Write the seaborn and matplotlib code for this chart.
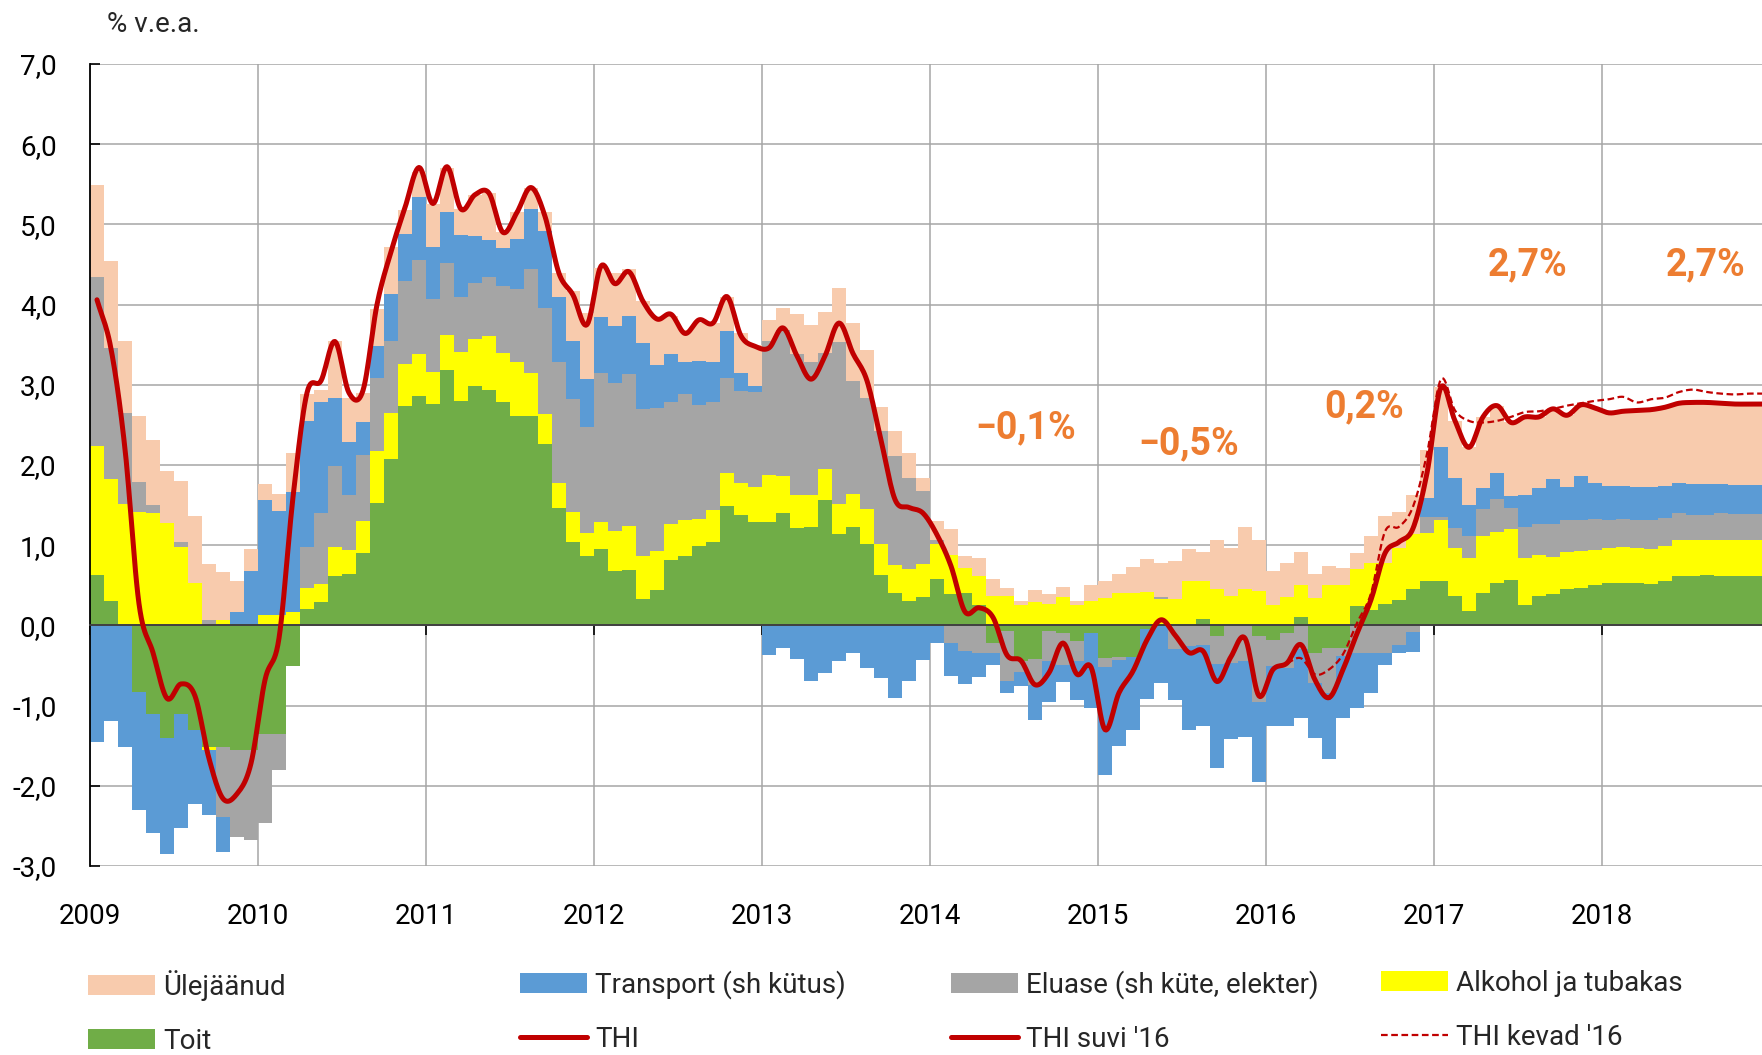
import numpy as np
import pandas as pd
import matplotlib
matplotlib.use("Agg")
import matplotlib.pyplot as plt
import seaborn as sns
from matplotlib.patches import Patch
from matplotlib.lines import Line2D

# ---------------- data (monthly, Jan 2009 - Dec 2018) ----------------
year_labels = [str(y) for y in range(2009, 2019)]

toit = [0.63, 0.30, 0.00, -0.83, -1.11, -1.40, -1.11, -1.31, -1.51, -1.51, -1.55, -1.55,
        -1.36, -1.36, -0.50, 0.21, 0.29, 0.62, 0.64, 0.90, 1.53, 2.08, 2.74, 2.86,
        2.76, 3.18, 2.80, 2.98, 2.94, 2.79, 2.61, 2.61, 2.26, 1.46, 1.04, 0.87,
        0.95, 0.68, 0.69, 0.33, 0.44, 0.82, 0.87, 0.99, 1.04, 1.49, 1.38, 1.29,
        1.29, 1.40, 1.22, 1.23, 1.56, 1.14, 1.23, 1.01, 0.63, 0.41, 0.31, 0.36,
        0.58, 0.39, 0.40, 0.26, -0.22, -0.07, -0.44, -0.42, -0.07, -0.09, -0.20, -0.10,
        -0.41, -0.40, -0.39, -0.05, 0.00, 0.00, 0.00, 0.08, -0.13, 0.00, 0.00, -0.13,
        -0.18, -0.10, 0.10, -0.34, -0.28, -0.28, 0.24, 0.19, 0.27, 0.32, 0.45, 0.55,
        0.55, 0.37, 0.18, 0.41, 0.53, 0.57, 0.26, 0.37, 0.39, 0.45, 0.47, 0.50,
        0.53, 0.53, 0.53, 0.51, 0.55, 0.62, 0.62, 0.63, 0.62, 0.62, 0.62, 0.62]

alkohol = [1.61, 1.53, 1.51, 1.42, 1.40, 1.28, 0.98, 0.53, -0.04, 0.07, 0.00, 0.00,
           0.13, 0.13, 0.17, 0.26, 0.23, 0.36, 0.30, 0.40, 0.64, 0.57, 0.52, 0.53,
           0.40, 0.44, 0.61, 0.59, 0.67, 0.61, 0.68, 0.54, 0.38, 0.32, 0.37, 0.28,
           0.34, 0.50, 0.55, 0.53, 0.49, 0.44, 0.45, 0.34, 0.40, 0.41, 0.39, 0.44,
           0.58, 0.46, 0.40, 0.39, 0.39, 0.37, 0.41, 0.44, 0.38, 0.34, 0.39, 0.41,
           0.43, 0.49, 0.31, 0.35, 0.37, 0.37, 0.26, 0.29, 0.27, 0.35, 0.25, 0.30,
           0.34, 0.40, 0.41, 0.42, 0.33, 0.33, 0.55, 0.47, 0.45, 0.37, 0.46, 0.43,
           0.25, 0.35, 0.40, 0.34, 0.50, 0.50, 0.46, 0.59, 0.51, 0.64, 0.69, 0.60,
           0.76, 0.60, 0.66, 0.70, 0.63, 0.63, 0.58, 0.51, 0.46, 0.46, 0.46, 0.44,
           0.43, 0.45, 0.44, 0.44, 0.44, 0.44, 0.44, 0.43, 0.45, 0.45, 0.45, 0.45]

eluase = [2.10, 1.63, 1.14, 0.37, 0.10, 0.00, 0.06, 0.00, 0.07, -0.88, -1.09, -1.13,
          -1.10, -0.44, 0.00, 0.51, 0.88, 1.01, 0.69, 0.82, 0.91, 0.89, 1.03, 1.16,
          0.91, 0.90, 0.69, 0.70, 0.73, 0.83, 0.91, 1.30, 1.32, 1.50, 1.41, 1.33,
          1.86, 1.84, 1.89, 1.84, 1.78, 1.53, 1.56, 1.42, 1.35, 1.18, 1.15, 1.18,
          1.67, 1.82, 1.76, 1.66, 1.45, 2.02, 1.41, 1.38, 1.42, 1.36, 1.14, 0.91,
          0.06, -0.22, -0.32, -0.35, -0.13, -0.62, -0.14, -0.32, -0.37, -0.40, -0.24, 0.00,
          -0.11, -0.03, 0.00, 0.00, 0.03, -0.30, -0.26, -0.25, -0.35, -0.47, -0.45, -0.83,
          -0.32, -0.43, -0.30, -0.38, -0.56, -0.10, -0.34, -0.35, -0.35, -0.25, -0.08, 0.20,
          0.04, 0.24, 0.27, 0.34, 0.41, 0.26, 0.39, 0.39, 0.41, 0.40, 0.39, 0.39,
          0.36, 0.35, 0.35, 0.36, 0.35, 0.34, 0.32, 0.32, 0.33, 0.32, 0.32, 0.32]

transport = [-1.45, -1.19, -1.51, -1.47, -1.48, -1.45, -1.42, -0.92, -0.82, -0.43, 0.17, 0.68,
             1.43, 1.30, 1.49, 1.57, 1.39, 0.84, 0.66, 0.41, 0.40, 0.59, 0.59, 0.79,
             0.65, 0.63, 0.77, 0.58, 0.46, 0.48, 0.62, 0.74, 0.96, 0.81, 0.72, 0.59,
             0.70, 0.71, 0.73, 0.82, 0.54, 0.60, 0.41, 0.55, 0.50, 0.59, 0.23, 0.08,
             -0.37, -0.28, -0.42, -0.69, -0.59, -0.45, -0.35, -0.53, -0.66, -0.91, -0.69, -0.43,
             -0.22, -0.41, -0.41, -0.29, -0.14, -0.15, -0.18, -0.44, -0.51, -0.22, -0.49, -0.93,
             -1.34, -1.07, -0.92, -0.87, -0.72, -0.63, -1.04, -1.00, -1.30, -0.95, -0.94, -0.99,
             -0.75, -0.72, -0.86, -0.68, -0.82, -0.78, -0.69, -0.49, -0.14, -0.10, -0.25, 0.24,
             0.87, 0.63, 0.39, 0.26, 0.33, 0.15, 0.39, 0.44, 0.57, 0.42, 0.54, 0.45,
             0.42, 0.41, 0.40, 0.41, 0.40, 0.38, 0.38, 0.38, 0.36, 0.36, 0.36, 0.36]

ylejaanud = [1.15, 1.08, 0.89, 0.82, 0.81, 0.65, 0.76, 0.83, 0.69, 0.60, 0.38, 0.27,
             0.20, 0.21, 0.49, 0.33, 0.14, 0.71, 0.54, 0.37, 0.47, 0.59, 0.30, 0.31,
             0.54, 0.55, 0.32, 0.52, 0.59, 0.19, 0.33, 0.27, 0.24, 0.31, 0.63, 0.82,
             0.61, 0.66, 0.58, 0.52, 0.59, 0.47, 0.39, 0.47, 0.48, 0.43, 0.49, 0.51,
             0.27, 0.28, 0.50, 0.47, 0.51, 0.68, 0.72, 0.61, 0.29, 0.31, 0.31, 0.16,
             0.23, 0.32, 0.16, 0.23, 0.21, 0.10, 0.04, 0.15, 0.12, 0.13, 0.05, 0.20,
             0.21, 0.24, 0.32, 0.41, 0.42, 0.47, 0.40, 0.37, 0.62, 0.60, 0.77, 0.63,
             0.43, 0.43, 0.42, 0.30, 0.24, 0.22, 0.20, 0.33, 0.58, 0.46, 0.49, 0.60,
             0.75, 0.71, 0.72, 0.89, 0.84, 0.92, 0.98, 0.89, 0.87, 0.89, 0.89, 0.93,
             0.91, 0.93, 0.96, 0.97, 0.98, 0.99, 1.02, 1.02, 1.01, 1.01, 1.00, 1.01]

# THI actual: months 0..88 (Jan 2009 - May 2016)
thi = [4.06, 3.45, 2.20, 0.27, -0.34, -0.91, -0.73, -0.88, -1.66, -2.16, -2.10, -1.72,
       -0.68, -0.16, 1.60, 2.90, 3.05, 3.54, 2.90, 2.93, 4.00, 4.66, 5.21, 5.71,
       5.26, 5.72, 5.19, 5.37, 5.39, 4.90, 5.15, 5.46, 5.10, 4.39, 4.12, 3.75,
       4.48, 4.26, 4.41, 4.04, 3.82, 3.88, 3.64, 3.81, 3.77, 4.10, 3.61, 3.48,
       3.46, 3.71, 3.36, 3.07, 3.36, 3.77, 3.39, 3.05, 2.31, 1.57, 1.47, 1.40,
       1.13, 0.74, 0.17, 0.22, 0.10, -0.37, -0.44, -0.74, -0.59, -0.22, -0.61, -0.52,
       -1.30, -0.84, -0.57, -0.18, 0.07, -0.12, -0.34, -0.32, -0.70, -0.39, -0.16, -0.88,
       -0.55, -0.47, -0.24, -0.68, -0.90]
# THI suvi '16: months 88..119
thi_suvi16 = [-0.90, -0.55, -0.10, 0.32, 0.90, 1.04, 1.21, 1.90,
              2.97, 2.55, 2.22, 2.60, 2.74, 2.53, 2.60, 2.60, 2.70, 2.62, 2.75, 2.71,
              2.65, 2.67, 2.68, 2.69, 2.72, 2.77, 2.78, 2.78, 2.77, 2.76, 2.76, 2.76]
# THI kevad '16: months 85..119
thi_kevad16 = [-0.47, -0.41, -0.61, -0.55, -0.36, 0.03, 0.40, 1.17, 1.23, 1.48, 2.14,
               3.07, 2.68, 2.55, 2.53, 2.55, 2.60, 2.66, 2.67, 2.70, 2.74, 2.77, 2.80,
               2.82, 2.85, 2.78, 2.82, 2.84, 2.91, 2.94, 2.91, 2.89, 2.88, 2.89, 2.89]

ann_texts = ["\u22120,1%", "\u22120,5%", "0,2%", "2,7%", "2,7%"]
ann_month = [66.8, 78.5, 91.0, 102.7, 115.4]
ann_value = [2.46, 2.27, 2.72, 4.49, 4.49]

# ---------------- styling ----------------
C_U, C_T, C_E, C_A, C_F = "#F8CBAD", "#5B9BD5", "#A5A5A5", "#FFFF00", "#70AD47"
RED = "#C00000"
ORANGE = "#ED7D31"

sns.set_theme(style="white")
plt.rcParams["font.family"] = ["Roboto", "DejaVu Sans"]

fig = plt.figure(figsize=(17.62, 10.55), dpi=100)
ax = fig.add_axes([90 / 1762, 1 - 866 / 1055, 1 - 90 / 1762, (866 - 64) / 1055])

n = len(toit)
months = np.arange(n)
df = pd.DataFrame({"Toit": toit, "Alkohol ja tubakas": alkohol,
                   "Eluase (sh küte, elekter)": eluase,
                   "Transport (sh kütus)": transport, "Ülejäänud": ylejaanud})
comps = [("Toit", C_F), ("Alkohol ja tubakas", C_A), ("Eluase (sh küte, elekter)", C_E),
         ("Transport (sh kütus)", C_T), ("Ülejäänud", C_U)]
pos = np.zeros(n)
neg = np.zeros(n)
for name, col in comps:
    v = df[name].to_numpy()
    bottom = np.where(v >= 0, pos, neg)
    ax.bar(months, v, width=1.0, bottom=bottom, align="edge", color=col,
           linewidth=0, zorder=1)
    pos += np.where(v >= 0, v, 0)
    neg += np.where(v < 0, v, 0)


def smooth(x, y, k=12):
    x = np.asarray(x, float)
    y = np.asarray(y, float)
    px = np.concatenate([[2 * x[0] - x[1]], x, [2 * x[-1] - x[-2]]])
    py = np.concatenate([[2 * y[0] - y[1]], y, [2 * y[-1] - y[-2]]])
    t = np.linspace(0, 1, k, endpoint=False)
    ox, oy = [], []
    for i in range(1, len(px) - 2):
        for arr, out in ((px, ox), (py, oy)):
            p0, p1, p2, p3 = arr[i - 1], arr[i], arr[i + 1], arr[i + 2]
            out.extend(0.5 * (2 * p1 + (-p0 + p2) * t
                              + (2 * p0 - 5 * p1 + 4 * p2 - p3) * t ** 2
                              + (-p0 + 3 * p1 - 3 * p2 + p3) * t ** 3))
    ox.append(x[-1])
    oy.append(y[-1])
    return np.array(ox), np.array(oy)


# kevad '16 (dashed)
kx = np.arange(85, 85 + len(thi_kevad16)) + 0.5
sx, sy = smooth(kx, thi_kevad16)
sns.lineplot(x=sx, y=sy, ax=ax, sort=False, estimator=None, color=RED,
             linewidth=1.6, dashes=False, zorder=3).lines[-1].set_dashes([3, 1.6])

# THI + THI suvi '16 (thick solid)
full = thi + thi_suvi16[1:]
fx = np.arange(len(full)) + 0.5
sx, sy = smooth(fx, full)
split = sx <= 88.5
sns.lineplot(x=sx[split], y=sy[split], ax=ax, sort=False, estimator=None,
             color=RED, linewidth=3.6, zorder=4)
sns.lineplot(x=sx[sx >= 88.5], y=sy[sx >= 88.5], ax=ax, sort=False, estimator=None,
             color=RED, linewidth=3.6, zorder=4)

for t, xm, yv in zip(ann_texts, ann_month, ann_value):
    ax.text(xm, yv, t, ha="center", va="center", color=ORANGE, fontsize=27,
            fontweight="bold", zorder=5)

# axes
ax.set_xlim(0, (1762 - 90) / 14)
ax.set_ylim(-3, 7)
ax.set_yticks(range(-3, 8))
ax.set_yticklabels([f"{v},0" if v >= 0 else f"-{abs(v)},0" for v in range(-3, 8)])
ax.set_xticks(np.arange(0, 120, 12))
ax.set_xticklabels(year_labels)
ax.set_axisbelow(True)
ax.grid(True, color="#A6A6A6", linewidth=1.1)
for s in ("top", "right"):
    ax.spines[s].set_visible(False)
ax.spines["left"].set_color("black")
ax.spines["left"].set_linewidth(1.3)
ax.spines["bottom"].set_position(("data", 0))
ax.spines["bottom"].set_color("#404040")
ax.spines["bottom"].set_linewidth(1.4)
ax.tick_params(axis="y", direction="in", length=7, width=1.2, color="black",
               pad=24, labelsize=20, labelcolor="black", left=True)
ax.tick_params(axis="x", direction="out", length=7, width=1.2, color="black",
               pad=193, labelsize=20, labelcolor="black", bottom=True)
ax.set_xlabel("")
ax.set_ylabel("")

fig.text(107 / 1762, 1 - 24 / 1055, "% v.e.a.", fontsize=20, ha="left", va="center")

# legend: four columns, two rows
entries = [
    [(Patch(facecolor=C_U, edgecolor="none"), "Ülejäänud"),
     (Patch(facecolor=C_F, edgecolor="none"), "Toit")],
    [(Patch(facecolor=C_T, edgecolor="none"), "Transport (sh kütus)"),
     (Line2D([], [], color=RED, linewidth=3.6), "THI")],
    [(Patch(facecolor=C_E, edgecolor="none"), "Eluase (sh küte, elekter)"),
     (Line2D([], [], color=RED, linewidth=3.6), "THI suvi '16")],
    [(Patch(facecolor=C_A, edgecolor="none"), "Alkohol ja tubakas"),
     (Line2D([], [], color=RED, linewidth=1.6, dashes=[3, 1.6]), "THI kevad '16")],
]
col_x = [88, 520, 951, 1381]
for xl, ent in zip(col_x, entries):
    leg = fig.legend([e[0] for e in ent], [e[1] for e in ent], loc="upper left",
                     bbox_to_anchor=(xl / 1762, 1 - 970 / 1055), frameon=False,
                     fontsize=20, handlelength=2.4, handleheight=0.72,
                     handletextpad=0.3, labelspacing=0.97, borderpad=0,
                     borderaxespad=0)

fig.savefig("out.png", dpi=100)
